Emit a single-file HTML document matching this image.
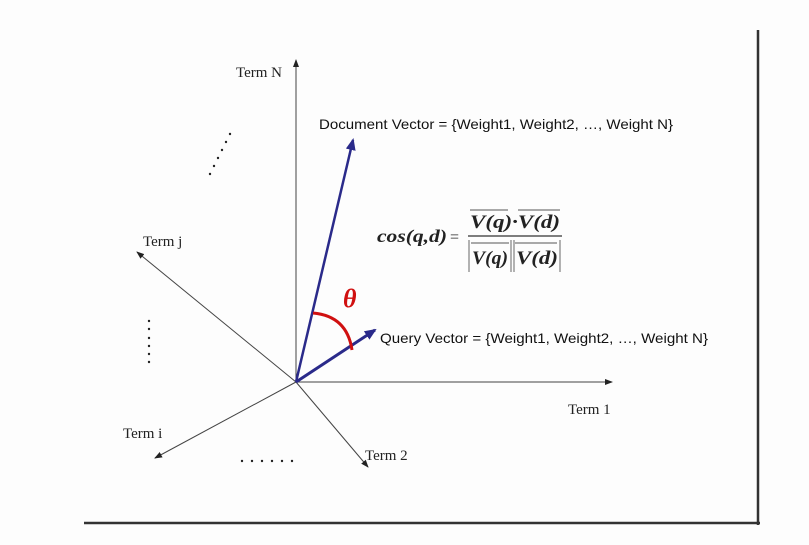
<!DOCTYPE html>
<html><head><meta charset="utf-8"><style>
body{margin:0;background:#fff;width:809px;height:545px;overflow:hidden}
svg{display:block}
text{font-family:"Liberation Serif",serif}
.s{font-family:"Liberation Sans",sans-serif}
</style></head><body>
<svg width="809" height="545" viewBox="0 0 809 545">
<defs>
<marker id="ak" markerWidth="8" markerHeight="8" refX="7" refY="4" orient="auto" markerUnits="userSpaceOnUse"><path d="M0,1 L8,4 L0,7 Z" fill="#222"/></marker>
<marker id="ab" markerWidth="12" markerHeight="10" refX="10" refY="5" orient="auto" markerUnits="userSpaceOnUse"><path d="M0,0 L12,5 L0,10 Z" fill="#2a2a8a"/></marker>
</defs>
<rect x="0" y="0" width="809" height="545" fill="#fdfdfd"/>
<line x1="758" y1="30" x2="758" y2="525" stroke="#333" stroke-width="2.5"/>
<line x1="84" y1="523" x2="760" y2="523" stroke="#333" stroke-width="2.5"/>
<g stroke="#444" stroke-width="1" fill="none">
<line x1="296" y1="382" x2="296" y2="60" marker-end="url(#ak)"/>
<line x1="296" y1="382" x2="612" y2="382" marker-end="url(#ak)"/>
<line x1="296" y1="382" x2="137" y2="252" marker-end="url(#ak)"/>
<line x1="296" y1="382" x2="155" y2="458" marker-end="url(#ak)"/>
<line x1="296" y1="382" x2="368" y2="467" marker-end="url(#ak)"/>
</g>
<line x1="296" y1="382" x2="353" y2="140" stroke="#2a2a8a" stroke-width="2.5" marker-end="url(#ab)"/>
<line x1="296" y1="382" x2="375" y2="330" stroke="#2a2a8a" stroke-width="3" marker-end="url(#ab)"/>
<path d="M313,313 Q347,316 352,350" stroke="#d01010" stroke-width="3" fill="none"/>
<text x="343" y="307" font-size="26" font-style="italic" font-weight="bold" fill="#d01010">θ</text>
<g font-size="15" fill="#222">
<text x="236" y="77">Term N</text>
<text x="568" y="414">Term 1</text>
<text x="143" y="246">Term j</text>
<text x="123" y="438">Term i</text>
<text x="365" y="460">Term 2</text>
</g>
<text class="s" x="319" y="129" font-size="14" textLength="354" lengthAdjust="spacingAndGlyphs" fill="#111">Document Vector = {Weight1, Weight2, …, Weight N}</text>
<text class="s" x="380" y="343" font-size="14" textLength="328" lengthAdjust="spacingAndGlyphs" fill="#111">Query Vector = {Weight1, Weight2, …, Weight N}</text>
<g font-style="italic" font-weight="bold" fill="#222">
<text x="377" y="242" font-size="18" textLength="70" lengthAdjust="spacingAndGlyphs">cos(q,d)</text>
<text x="450" y="242" font-size="16" font-style="normal" font-weight="normal">=</text>
<text x="470" y="228" font-size="19" textLength="90" lengthAdjust="spacingAndGlyphs">V(q)·V(d)</text>
<line x1="470" y1="210" x2="508" y2="210" stroke="#555" stroke-width="1"/>
<line x1="518" y1="210" x2="560" y2="210" stroke="#555" stroke-width="1"/>
<line x1="468" y1="236" x2="562" y2="236" stroke="#333" stroke-width="1.2"/>
<text x="472" y="264" font-size="19" textLength="36" lengthAdjust="spacingAndGlyphs">V(q)</text>
<text x="516" y="264" font-size="19" textLength="42" lengthAdjust="spacingAndGlyphs">V(d)</text>
<line x1="471" y1="243" x2="509" y2="243" stroke="#555" stroke-width="1"/>
<line x1="515" y1="243" x2="557" y2="243" stroke="#555" stroke-width="1"/>
<g stroke="#666" stroke-width="1"><line x1="469" y1="240" x2="469" y2="272"/><line x1="511" y1="240" x2="511" y2="272"/><line x1="514" y1="240" x2="514" y2="272"/><line x1="560" y1="240" x2="560" y2="272"/></g>
</g>
<g fill="#222">
<circle cx="210" cy="174" r="1.2"/><circle cx="214" cy="166" r="1.2"/><circle cx="218" cy="158" r="1.2"/><circle cx="222" cy="150" r="1.2"/><circle cx="226" cy="142" r="1.2"/><circle cx="230" cy="134" r="1.2"/>
<circle cx="149" cy="321" r="1.2"/><circle cx="149" cy="329" r="1.2"/><circle cx="149" cy="338" r="1.2"/><circle cx="149" cy="346" r="1.2"/><circle cx="149" cy="354" r="1.2"/><circle cx="149" cy="362" r="1.2"/>
<circle cx="242" cy="461" r="1.2"/><circle cx="252" cy="461" r="1.2"/><circle cx="262" cy="461" r="1.2"/><circle cx="272" cy="461" r="1.2"/><circle cx="282" cy="461" r="1.2"/><circle cx="292" cy="461" r="1.2"/>
</g>
</svg>
</body></html>
